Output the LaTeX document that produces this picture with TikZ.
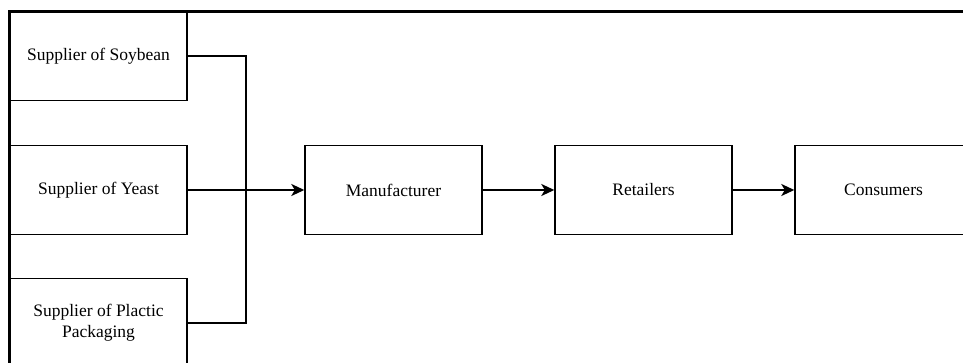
\documentclass[tikz,border=0pt]{standalone}
\usepackage{fontspec}
\setmainfont{Liberation Serif}
\usetikzlibrary{arrows.meta}

\tikzset{
  stage/.style={draw, line width=1.4pt, minimum width=177pt, minimum height=89pt,
    align=center, inner sep=2pt, font=\fontsize{17.5}{21}\selectfont},
  flow/.style={line width=2pt, -{Stealth[length=13pt,width=12pt,inset=3.5pt]}},
  link/.style={line width=1.6pt}
}

\begin{document}
\begin{tikzpicture}[x=1pt,y=-1pt]
\useasboundingbox (0,0) rectangle (963,363);

% page frame
\draw[line width=2.2pt] (9.5,363) -- (9.5,11.5) -- (963,11.5);

% suppliers
\node[stage] (soy) at (98.5,56) {Supplier of Soybean};
\node[stage] (yeast) at (98.5,190) {Supplier of Yeast};
\node[stage] (plastic) at (98.5,323) {Supplier of Plactic\\Packaging};

% chain
\node[stage] (manu) at (393.5,190) {Manufacturer};
\node[stage] (retail) at (643.5,190) {Retailers};
\node[stage] (cons) at (883.5,190) {Consumers};

\coordinate (jn) at (246,190);
\draw[link] (soy.east) -| (jn);
\draw[link] (plastic.east) -| (jn);
\draw[flow] (yeast) -- (manu);
\draw[flow] (manu) -- (retail);
\draw[flow] (retail) -- (cons);
\end{tikzpicture}
\end{document}
